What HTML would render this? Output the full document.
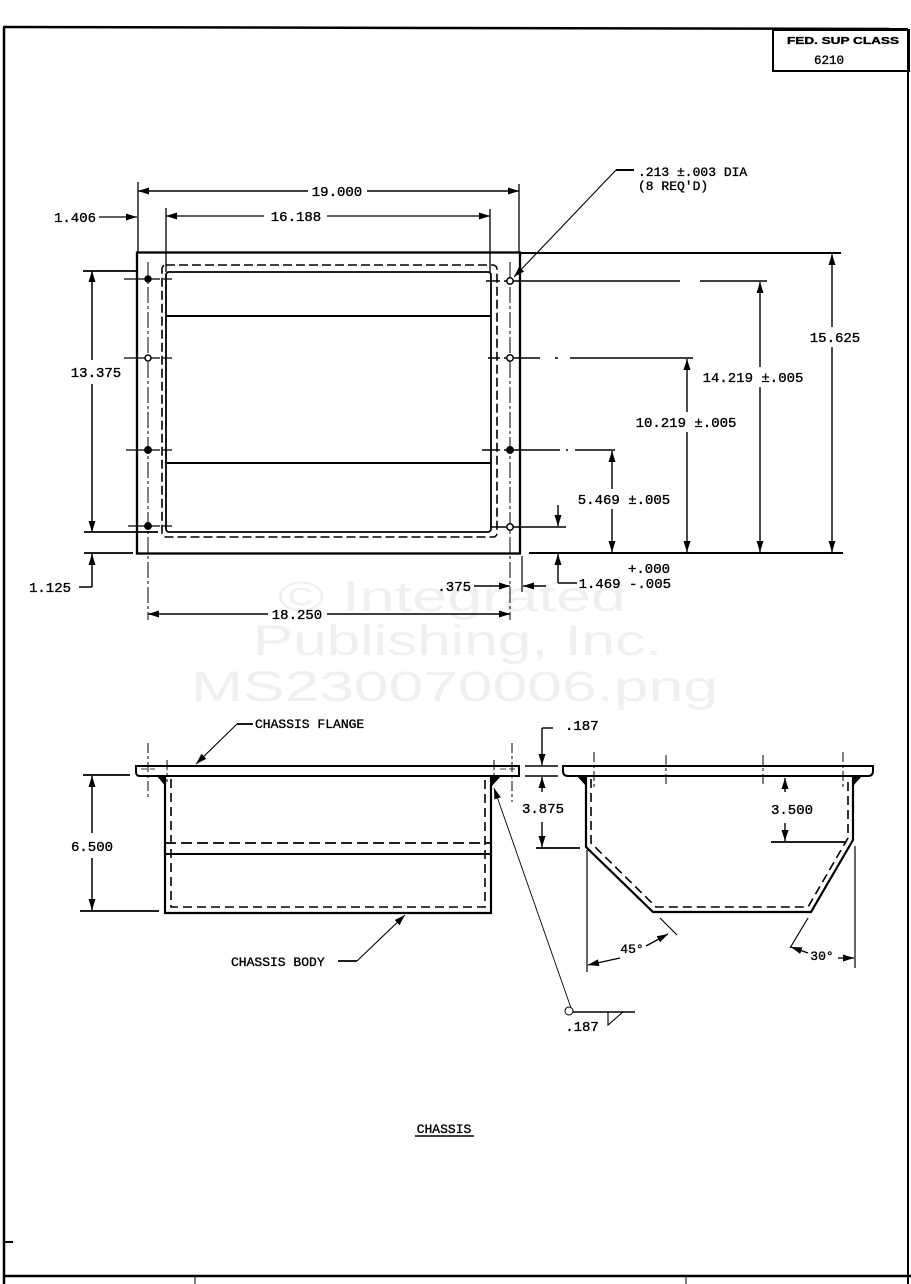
<!DOCTYPE html>
<html><head><meta charset="utf-8"><style>
html,body{margin:0;padding:0;background:#fff;}
svg{display:block;}
text{font-family:"Liberation Mono",monospace;font-size:14px;fill:#000;stroke:#000;stroke-width:0.35;}
.wm{font-family:"Liberation Sans",sans-serif;font-size:43px;fill:#f0f0f0;stroke:none;}
</style></head><body>
<svg width="911" height="1284" viewBox="0 0 911 1284" xmlns="http://www.w3.org/2000/svg">
<defs>
<marker id="a" viewBox="0 0 11 7" refX="11" refY="3.5" markerWidth="11" markerHeight="7" markerUnits="userSpaceOnUse" orient="auto-start-reverse">
<path d="M0,0 L11,3.5 L0,7 z" fill="#000"/>
</marker>
</defs>
<!-- watermark -->
<text class="wm" x="278" y="611" textLength="348" lengthAdjust="spacingAndGlyphs">© Integrated</text>
<text class="wm" x="253" y="655" textLength="409" lengthAdjust="spacingAndGlyphs">Publishing, Inc.</text>
<text class="wm" x="191" y="701" textLength="527" lengthAdjust="spacingAndGlyphs">MS230070006.png</text>

<g stroke="#000" fill="none">
<!-- page border -->
<path d="M3,27 L908,29" stroke-width="2.5"/>
<path d="M4,27 L4,1284" stroke-width="2.5"/>
<path d="M908,29 L908,1284" stroke-width="2"/>
<path d="M4,1276 L911,1276" stroke-width="2.5"/>
<path d="M195,1277 L195,1284 M686,1277 L686,1284" stroke-width="1"/>
<path d="M4,1242 L13,1242" stroke-width="2"/>
<!-- FED box -->
<rect x="773" y="30" width="136" height="41" stroke-width="2"/>

<!-- ===== TOP VIEW ===== -->
<rect x="137" y="252.5" width="383" height="301" stroke-width="2.3"/>
<path d="M520,253 L841,253" stroke-width="2"/>
<path d="M529,553 L843,553" stroke-width="2"/>
<path d="M84,553 L133,553" stroke-width="1.8"/>
<rect x="162" y="265" width="335" height="272" rx="4" stroke-width="1.6" stroke-dasharray="9 4"/>
<rect x="166" y="272" width="325" height="260" rx="3" stroke-width="1.8"/>
<path d="M166,316 L491,316 M166,463 L491,463" stroke-width="2"/>
<!-- centerlines -->
<path d="M148,262 L148,620" stroke-width="1" stroke-dasharray="16 3 3 3"/>
<path d="M510,262 L510,620" stroke-width="1" stroke-dasharray="16 3 3 3"/>
<path d="M124,279 L160,279 M163,279 L172,279 M124,358 L160,358 M163,358 L172,358 M126,450 L160,450 M163,450 L172,450 M128,526 L160,526 M163,526 L172,526" stroke-width="1.3"/>
<path d="M486,281 L500,281 M504,281 L680,281 M700,281 L767,281" stroke-width="1.6"/>
<path d="M488,358 L500,358 M504,358 L540,358 M555,358 L558,358 M570,358 L693,358" stroke-width="1.6"/>
<path d="M482,450 L500,450 M504,450 L560,450 M566,450 L568,450 M575,450 L615,450" stroke-width="1.6"/>
<path d="M490,527 L566,527" stroke-width="1.4"/>
<!-- holes -->
<g stroke-width="1.5">
<circle cx="148" cy="279" r="3" fill="#000"/>
<circle cx="148" cy="358" r="3" fill="#fff"/>
<circle cx="148" cy="450" r="3.2" fill="#000"/>
<circle cx="148" cy="526" r="3.2" fill="#000"/>
<circle cx="510" cy="281" r="3.2" fill="#fff"/>
<circle cx="510" cy="358" r="3.2" fill="#fff"/>
<circle cx="510" cy="450" r="3.2" fill="#000"/>
<circle cx="510" cy="527" r="3.2" fill="#fff"/>
</g>
<!-- 19.000 / 16.188 / 1.406 -->
<path d="M138,182 L138,252 M519,184 L519,252" stroke-width="1.3"/>
<path d="M166,208 L166,272 M490,209 L490,272" stroke-width="1.3"/>
<path d="M308,191 L138,191" stroke-width="1.4" marker-end="url(#a)"/>
<path d="M367,191 L519,191" stroke-width="1.4" marker-end="url(#a)"/>
<path d="M264,216 L166,216" stroke-width="1.3" marker-end="url(#a)"/>
<path d="M327,216 L490,216" stroke-width="1.3" marker-end="url(#a)"/>
<path d="M99,217 L137,217" stroke-width="1.3" marker-end="url(#a)"/>
<!-- leader .213 -->
<path d="M616,170 L634,170" stroke-width="2"/>
<path d="M616,170 L514,277" stroke-width="1.1" marker-end="url(#a)"/>
<!-- 13.375 -->
<path d="M83,271 L137,271 M84,532 L158,532" stroke-width="1.8"/>
<path d="M92,360 L92,271" stroke-width="1.5" marker-end="url(#a)"/>
<path d="M92,384 L92,532" stroke-width="1.5" marker-end="url(#a)"/>
<!-- 1.125 -->
<path d="M92,587 L92,554" stroke-width="1.5" marker-end="url(#a)"/>
<path d="M79,587 L92,587" stroke-width="1.5"/>
<!-- right dims -->
<path d="M832,327 L832,254" stroke-width="1.4" marker-end="url(#a)"/>
<path d="M832,347 L832,552" stroke-width="1.4" marker-end="url(#a)"/>
<path d="M760,367 L760,282" stroke-width="1.4" marker-end="url(#a)"/>
<path d="M760,387 L760,552" stroke-width="1.4" marker-end="url(#a)"/>
<path d="M687,412 L687,359" stroke-width="1.4" marker-end="url(#a)"/>
<path d="M687,432 L687,552" stroke-width="1.4" marker-end="url(#a)"/>
<path d="M612,489 L612,451" stroke-width="1.4" marker-end="url(#a)"/>
<path d="M612,509 L612,552" stroke-width="1.4" marker-end="url(#a)"/>
<path d="M558,505 L558,526" stroke-width="1.4" marker-end="url(#a)"/>
<path d="M558,583 L558,554" stroke-width="1.4" marker-end="url(#a)"/>
<path d="M558,583 L577,583" stroke-width="1.4"/>
<!-- .375 -->
<path d="M522,556 L522,592" stroke-width="1.2"/>
<path d="M474,586 L510,586" stroke-width="1.4" marker-end="url(#a)"/>
<path d="M546,586 L523,586" stroke-width="1.4" marker-end="url(#a)"/>
<!-- 18.250 -->
<path d="M268,614 L148,614" stroke-width="1.4" marker-end="url(#a)"/>
<path d="M327,614 L510,614" stroke-width="1.4" marker-end="url(#a)"/>

<!-- ===== FRONT VIEW ===== -->
<path d="M136,766 L519,766 L519,776 L140,776 Q136,776 136,772 Z" stroke-width="2"/>
<path d="M165,776 L165,913 L491,913 L491,776" stroke-width="2.2"/>
<path d="M165,854 L491,854" stroke-width="2"/>
<path d="M165,843 L491,843" stroke-width="1.8" stroke-dasharray="11 5"/>
<path d="M171,779 L171,907 L485,907 L485,779" stroke-width="1.6" stroke-dasharray="9 5"/>
<path d="M148,743 L148,800 M512,743 L512,802 M167,760 L167,782 M494,760 L494,782" stroke-width="1" stroke-dasharray="10 3 3 3"/>
<path d="M141,769 L147,769 M150,769 L155,769 M500,769 L506,769 M509,769 L515,769" stroke-width="0.8"/>
<!-- 6.500 -->
<path d="M83,775 L130,775 M80,911 L159,911" stroke-width="1.8"/>
<path d="M92,833 L92,776" stroke-width="1.5" marker-end="url(#a)"/>
<path d="M92,858 L92,910" stroke-width="1.5" marker-end="url(#a)"/>
<!-- leaders -->
<path d="M237,724 L253,724" stroke-width="1.8"/>
<path d="M237,724 L196,764" stroke-width="1.1" marker-end="url(#a)"/>
<path d="M338,961 L357,961" stroke-width="1.8"/>
<path d="M357,961 L405,915" stroke-width="1.1" marker-end="url(#a)"/>
<path d="M571,1008 L494,788" stroke-width="0.9" marker-end="url(#a)"/>
<circle cx="569" cy="1011" r="4" stroke-width="1"/>
<path d="M573,1012 L635,1012" stroke-width="1.4"/>
<path d="M608,1012 L608,1025 L623,1012" stroke-width="1.1"/>

<!-- ===== SIDE VIEW ===== -->
<path d="M563,766 L873,766 L873,771 Q873,776 868,776 L568,776 Q563,776 563,771 Z" stroke-width="2"/>
<path d="M525,766 L558,766 M525,776 L558,776" stroke-width="1.6"/>
<path d="M542,728 L553,728" stroke-width="1.4"/>
<path d="M542,728 L542,765" stroke-width="1.4" marker-end="url(#a)"/>
<path d="M542,792 L542,777" stroke-width="1.4" marker-end="url(#a)"/>
<path d="M542,822 L542,847" stroke-width="1.4" marker-end="url(#a)"/>
<path d="M536,848 L580,848" stroke-width="1.8"/>
<path d="M586,776 L586,847 L653,912 L811,912 L853,840 L853,776" stroke-width="2.2"/>
<path d="M591,779 L591,843 L656,907 L808,907 L848,838 L848,779" stroke-width="1.6" stroke-dasharray="9 5"/>
<path d="M594,752 L594,790 M666,755 L666,785 M763,755 L763,785 M843,752 L843,790" stroke-width="1" stroke-dasharray="10 3 3 3"/>
<!-- 3.500 -->
<path d="M785,792 L785,778" stroke-width="1.4" marker-end="url(#a)"/>
<path d="M785,823 L785,841" stroke-width="1.4" marker-end="url(#a)"/>
<path d="M771,842 L845,842" stroke-width="1.8"/>
<!-- 45 -->
<path d="M587,850 L587,972" stroke-width="1.2"/>
<path d="M660,918 L677,935" stroke-width="1.2"/>
<path d="M620,958 L588,965" stroke-width="1.3" marker-end="url(#a)"/>
<path d="M646,946 L668,934" stroke-width="1.3" marker-end="url(#a)"/>
<!-- 30 -->
<path d="M855,846 L855,968" stroke-width="1.2"/>
<path d="M808,918 L790,948" stroke-width="1.2"/>
<path d="M808,953 L791,947" stroke-width="1.3" marker-end="url(#a)"/>
<path d="M838,958 L854,958" stroke-width="1.3" marker-end="url(#a)"/>
<!-- CHASSIS underline -->
<path d="M415,1136 L474,1136" stroke-width="1.6"/>
</g>
<g fill="#000">
<path d="M157,776 L166,776 L166,787 Z"/>
<path d="M491,776 L501,776 L491,787 Z"/>
<path d="M577,776 L586,776 L586,786 Z"/>
<path d="M862,776 L853,776 L853,786 Z"/>
</g>

<!-- texts -->
<text x="787" y="44" textLength="112" lengthAdjust="spacingAndGlyphs" style="font-family:'Liberation Sans',sans-serif;font-size:10.5px;font-weight:bold">FED. SUP CLASS</text>
<text x="829" y="64" text-anchor="middle" style="font-size:12.5px">6210</text>
<text x="337" y="196" text-anchor="middle">19.000</text>
<text x="296" y="221" text-anchor="middle">16.188</text>
<text x="75" y="222" text-anchor="middle">1.406</text>
<text x="638" y="176" style="font-size:13px">.213 ±.003 DIA</text>
<text x="638" y="190" style="font-size:13px">(8 REQ'D)</text>
<text x="96" y="377" text-anchor="middle">13.375</text>
<text x="50" y="592" text-anchor="middle">1.125</text>
<text x="835" y="342" text-anchor="middle">15.625</text>
<text x="753" y="382" text-anchor="middle">14.219 ±.005</text>
<text x="686" y="427" text-anchor="middle">10.219 ±.005</text>
<text x="624" y="504" text-anchor="middle">5.469 ±.005</text>
<text x="670" y="573" text-anchor="end">+.000</text>
<text x="671" y="588" text-anchor="end">1.469 -.005</text>
<text x="471" y="591" text-anchor="end">.375</text>
<text x="297" y="619" text-anchor="middle">18.250</text>
<text x="255" y="728" style="font-size:13px">CHASSIS FLANGE</text>
<text x="92" y="851" text-anchor="middle">6.500</text>
<text x="231" y="966" style="font-size:13px">CHASSIS BODY</text>
<text x="582" y="1031" text-anchor="middle">.187</text>
<text x="565" y="730">.187</text>
<text x="543" y="813" text-anchor="middle">3.875</text>
<text x="792" y="814" text-anchor="middle">3.500</text>
<text x="632" y="953" text-anchor="middle" style="font-size:13px">45°</text>
<text x="822" y="960" text-anchor="middle" style="font-size:13px">30°</text>
<text x="444" y="1133" text-anchor="middle" style="font-size:13px">CHASSIS</text>
</svg>
</body></html>
